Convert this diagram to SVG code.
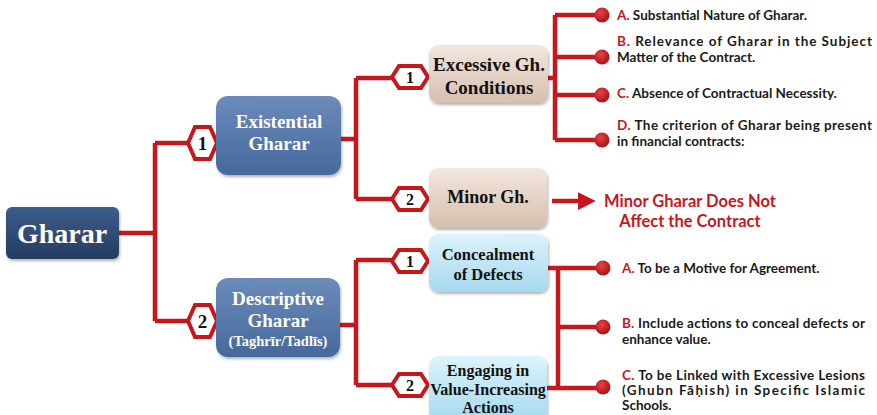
<svg xmlns="http://www.w3.org/2000/svg" width="877" height="415" viewBox="0 0 877 415">
<defs>
  <linearGradient id="gNavy" x1="0" y1="0" x2="0" y2="1">
    <stop offset="0" stop-color="#3d5c8a"/>
    <stop offset="1" stop-color="#243c62"/>
  </linearGradient>
  <linearGradient id="gBlue" x1="0" y1="0" x2="0" y2="1">
    <stop offset="0" stop-color="#6b8bbb"/>
    <stop offset="1" stop-color="#46699b"/>
  </linearGradient>
  <linearGradient id="gBeige" x1="0" y1="0" x2="0" y2="1">
    <stop offset="0" stop-color="#f3e7de"/>
    <stop offset="1" stop-color="#d6bfae"/>
  </linearGradient>
  <linearGradient id="gSky" x1="0" y1="0" x2="0" y2="1">
    <stop offset="0" stop-color="#dcf3fc"/>
    <stop offset="1" stop-color="#a6d9ee"/>
  </linearGradient>
  <radialGradient id="gDot" cx="0.4" cy="0.35" r="0.7">
    <stop offset="0" stop-color="#ec4045"/>
    <stop offset="1" stop-color="#a50f14"/>
  </radialGradient>
  <filter id="sh" x="-10%" y="-10%" width="125%" height="130%">
    <feDropShadow dx="1" dy="2" stdDeviation="1.5" flood-color="#000" flood-opacity="0.3"/>
  </filter>
  <marker id="arr" markerWidth="4" markerHeight="4" refX="0.5" refY="2" orient="auto" markerUnits="strokeWidth">
    <path d="M0,0 L4,2 L0,4 Z" fill="#c8161d"/>
  </marker>
</defs>
<style>
  .ln { stroke:#c8161d; stroke-width:4.5; fill:none; }
  .hex { fill:#fff; stroke:#c8161d; stroke-width:4; stroke-linejoin:miter; }
  .num1 { font-family:"Liberation Serif",serif; font-weight:bold; font-size:19px; fill:#111; text-anchor:middle; }
  .num2 { font-family:"Liberation Serif",serif; font-weight:bold; font-size:16px; fill:#111; text-anchor:middle; }
  .wt { font-family:"Liberation Serif",serif; font-weight:bold; fill:#fff; text-anchor:middle; }
  .bt { font-family:"Liberation Serif",serif; font-weight:bold; fill:#111; text-anchor:middle; }
  .rt { font-family:Lato,"Noto Sans",sans-serif; font-weight:bold; font-size:13.5px; fill:#1a1a1a; }
  .red { fill:#c8161d; }
  .dot { fill:url(#gDot); }
</style>

<g id="connectors">
  <path class="ln" d="M119,233 H155 M155,143 V321 M155,143 H190 M155,321 H190"/>
  <path class="ln" d="M341,139 H356 M356,78 V199 M356,78 H394 M356,199 H394"/>
  <path class="ln" d="M340,325 H356 M356,260 V385 M356,260 H394 M356,385 H394"/>
  <path class="ln" d="M548,78 H555 M555,15 V140 M555,15 H602 M555,57 H602 M555,95 H602 M555,140 H602"/>
  <path class="ln" d="M548,268 H603 M547,388 H603 M558,268 V388 M558,327 H603"/>
  <line x1="552" y1="201" x2="580" y2="201" stroke="#c8161d" stroke-width="4.5" marker-end="url(#arr)"/>
  <circle class="dot" cx="602" cy="15" r="7.5"/>
  <circle class="dot" cx="602" cy="57" r="7.5"/>
  <circle class="dot" cx="602" cy="95" r="7.5"/>
  <circle class="dot" cx="602" cy="140" r="7.5"/>
  <circle class="dot" cx="603" cy="268" r="7.5"/>
  <circle class="dot" cx="603" cy="327" r="7.5"/>
  <circle class="dot" cx="603" cy="387" r="7.5"/>
</g>

<g id="hex-1">
  <polygon class="hex" points="188,143 195,127 210,127 217,143 210,159 195,159"/>
  <text class="num1" x="202.5" y="150">1</text>
</g>
<g id="hex-2">
  <polygon class="hex" points="188,321 195,305 210,305 217,321 210,337 195,337"/>
  <text class="num1" x="202.5" y="328">2</text>
</g>
<g id="hex-1-1">
  <polygon class="hex" points="392,77 399,66 421,66 428,77 421,88 399,88"/>
  <text class="num2" x="410" y="83">1</text>
</g>
<g id="hex-1-2">
  <polygon class="hex" points="392,199 399,188 421,188 428,199 421,210 399,210"/>
  <text class="num2" x="410" y="205">2</text>
</g>
<g id="hex-2-1">
  <polygon class="hex" points="392,261 399,250 421,250 428,261 421,272 399,272"/>
  <text class="num2" x="410" y="267">1</text>
</g>
<g id="hex-2-2">
  <polygon class="hex" points="392,385 399,374 421,374 428,385 421,396 399,396"/>
  <text class="num2" x="410" y="391">2</text>
</g>

<g id="gharar">
  <rect x="6" y="207" width="113" height="52" rx="6" fill="url(#gNavy)" filter="url(#sh)"/>
  <text class="wt" x="62" y="243" font-size="28">Gharar</text>
</g>
<g id="existential">
  <rect x="216" y="96" width="125" height="79" rx="12" fill="url(#gBlue)" filter="url(#sh)"/>
  <text class="wt" x="279" y="128" font-size="19">Existential</text>
  <text class="wt" x="279" y="150" font-size="19">Gharar</text>
</g>
<g id="descriptive">
  <rect x="216" y="278" width="124" height="79" rx="12" fill="url(#gBlue)" filter="url(#sh)"/>
  <text class="wt" x="278" y="305" font-size="19">Descriptive</text>
  <text class="wt" x="278" y="327" font-size="19">Gharar</text>
  <text class="wt" x="278" y="346" font-size="14.5">(Taghrīr/Tadlīs)</text>
</g>
<g id="excessive">
  <rect x="429" y="45" width="119" height="58" rx="9" fill="url(#gBeige)" filter="url(#sh)"/>
  <text class="bt" x="489" y="71" font-size="19">Excessive Gh.</text>
  <text class="bt" x="489" y="94" font-size="19">Conditions</text>
</g>
<g id="minor">
  <rect x="429" y="168" width="118" height="60" rx="9" fill="url(#gBeige)" filter="url(#sh)"/>
  <text class="bt" x="488" y="203" font-size="18">Minor Gh.</text>
</g>
<g id="minor-result">
  <text class="red" x="690" y="207" font-family="Lato,'Noto Sans',sans-serif" font-weight="bold" font-size="16.5" text-anchor="middle">Minor Gharar Does Not</text>
  <text class="red" x="690" y="227" font-family="Lato,'Noto Sans',sans-serif" font-weight="bold" font-size="16.5" text-anchor="middle">Affect the Contract</text>
</g>
<g id="concealment">
  <rect x="429" y="234" width="119" height="58" rx="9" fill="url(#gSky)" filter="url(#sh)"/>
  <text class="bt" x="488" y="260" font-size="16.5">Concealment</text>
  <text class="bt" x="488" y="280" font-size="16.5">of Defects</text>
</g>
<g id="engaging">
  <rect x="429" y="356" width="118" height="66" rx="9" fill="url(#gSky)" filter="url(#sh)"/>
  <text class="bt" x="488" y="376" font-size="16">Engaging in</text>
  <text class="bt" x="488" y="395" font-size="16">Value-Increasing</text>
  <text class="bt" x="488" y="413" font-size="16">Actions</text>
</g>

<g id="conditions-text">
  <text class="rt" x="617" y="20"><tspan class="red">A.</tspan> Substantial Nature of Gharar.</text>
  <text class="rt" x="617" y="46" textLength="255" lengthAdjust="spacing"><tspan class="red">B.</tspan> Relevance of Gharar in the Subject</text>
  <text class="rt" x="617" y="62">Matter of the Contract.</text>
  <text class="rt" x="617" y="98"><tspan class="red">C.</tspan> Absence of Contractual Necessity.</text>
  <text class="rt" x="617" y="130" textLength="255" lengthAdjust="spacing"><tspan class="red">D.</tspan> The criterion of Gharar being present</text>
  <text class="rt" x="617" y="146">in financial contracts:</text>
</g>
<g id="descriptive-text">
  <text class="rt" x="622" y="273"><tspan class="red">A.</tspan> To be a Motive for Agreement.</text>
  <text class="rt" x="622" y="328" textLength="243" lengthAdjust="spacing"><tspan class="red">B.</tspan> Include actions to conceal defects or</text>
  <text class="rt" x="622" y="344">enhance value.</text>
  <text class="rt" x="622" y="380" textLength="243" lengthAdjust="spacing"><tspan class="red">C.</tspan> To be Linked with Excessive Lesions</text>
  <text class="rt" x="622" y="395" textLength="243" lengthAdjust="spacing">(Ghubn Fāḥish) in Specific Islamic</text>
  <text class="rt" x="622" y="410">Schools.</text>
</g>
</svg>
